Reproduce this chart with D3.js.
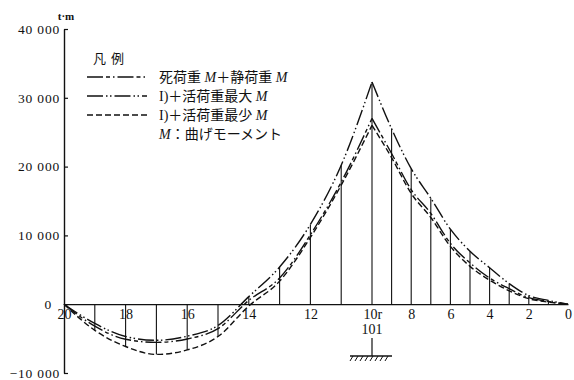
<!DOCTYPE html>
<html>
<head>
<meta charset="utf-8">
<script src="https://cdn.jsdelivr.net/npm/d3@7/dist/d3.min.js"></script>
<style>
  html, body { margin: 0; padding: 0; background: #fff; }
  svg { display: block; }
  .num { font-family: "Liberation Serif", "DejaVu Serif", serif; fill: #111; }
  .jp  { font-family: "Noto Sans CJK JP", sans-serif; fill: #111; }
</style>
</head>
<body>
<svg id="chart" width="574" height="380"></svg>
<script>
// Panel points along the girder, left end (20) to right end (0)
const nodeNo  = [20, 19, 18, 17, 16, 15, 14, 13, 12, 11, 10, 9, 8, 7, 6, 5, 4, 3, 2, 1, 0];
// Distance of each panel point from point 20 (m)
const station = [0, 11, 22, 33, 44, 55, 66, 77, 88, 99, 110, 117, 124, 131, 138, 145, 152, 159, 166, 173, 180];

// Bending moments at each panel point (t·m)
const deadM = [0, -3200, -5100, -5550, -5050, -3550, 550, 3800, 10100, 17750, 27000,
               21900, 16650, 13200, 8850, 6000, 3800, 2250, 950, 400, 0];
const maxM  = [0, -2800, -4700, -5250, -4650, -3100, 1100, 5400, 11600, 20200, 32300,
               25500, 19700, 15400, 10900, 7700, 5300, 3000, 1250, 550, 0];
const minM  = [0, -3800, -6150, -7300, -6650, -4700, -250, 3350, 9700, 17300, 26000,
               21300, 16100, 12600, 8400, 5500, 3500, 1950, 800, 300, 0];

// Axis labels
const xTickNodes  = [20, 18, 16, 14, 12, 10, 8, 6, 4, 2, 0];
const xTickLabels = ["20", "18", "16", "14", "12", "10r", "8", "6", "4", "2", "0"];
const yTicks      = [-10000, 0, 10000, 20000, 30000, 40000];
const yTickLabels = ["−10 000", "0", "10 000", "20 000", "30 000", "40 000"];
const pierLabel   = "101";
const pierNode    = 10;

const svg = d3.select("#chart");
const ink = "#111";

const x = d3.scaleLinear().domain([0, 180]).range([64, 568]);
const y = d3.scaleLinear().domain([-10000, 40000]).range([373, 29]);
const stationOf = n => station[nodeNo.indexOf(n)];

// ---- axes ----
const yAxis = d3.axisLeft(y)
  .tickValues(yTicks)
  .tickSizeInner(-4)
  .tickSizeOuter(0)
  .tickPadding(4)
  .tickFormat((d, i) => yTickLabels[i]);
const gy = svg.append("g").attr("transform", "translate(64,0)").call(yAxis);
gy.select(".domain").attr("stroke", ink).attr("stroke-width", 1.4);
gy.selectAll(".tick line").attr("stroke", ink).attr("stroke-width", 1.2);
gy.selectAll(".tick text")
  .attr("class", "num")
  .attr("font-size", 13.5)
  .attr("letter-spacing", 0.8)
  .attr("fill", ink);
// the zero label sits clear of the "20" label
gy.selectAll(".tick").filter(d => d === 0).select("text").attr("x", -12);

const xAxis = d3.axisBottom(x)
  .tickValues(xTickNodes.map(stationOf))
  .tickSize(0)
  .tickPadding(5)
  .tickFormat((d, i) => xTickLabels[i]);
const gx = svg.append("g").attr("transform", `translate(0,${y(0)})`).call(xAxis);
gx.select(".domain").attr("stroke", ink).attr("stroke-width", 1.3);
gx.selectAll(".tick text")
  .attr("class", "num")
  .attr("font-size", 14)
  .attr("fill", ink);
gx.selectAll(".tick").filter((d, i) => xTickLabels[i] === "10r").select("text")
  .attr("text-anchor", "start").attr("x", -9);

// unit
svg.append("text").attr("class", "num")
  .attr("x", 66).attr("y", 20)
  .attr("text-anchor", "middle")
  .attr("font-size", 11).attr("font-weight", "bold")
  .text("t·m");

// ---- ordinates at each panel point (to the envelope) ----
const ordinates = nodeNo.map((n, i) => ({
  s: station[i],
  v: deadM[i] < 0 ? minM[i] : maxM[i]
})).filter((d, i) => nodeNo[i] !== 20 && nodeNo[i] !== 0);

svg.append("g").selectAll("line").data(ordinates).join("line")
  .attr("x1", d => x(d.s)).attr("x2", d => x(d.s))
  .attr("y1", y(0)).attr("y2", d => y(d.v))
  .attr("stroke", ink).attr("stroke-width", 1.1);

// ---- moment curves, drawn span by span so the pier peak stays sharp ----
const series = [
  { values: deadM, dash: "16,3,4,3,1.5,3" },
  { values: maxM,  dash: "16,3,1.5,2.5,1.5,3" },
  { values: minM,  dash: "6,3" }
];
const pierIdx = nodeNo.indexOf(pierNode);
const spans = [[0, pierIdx], [pierIdx, nodeNo.length - 1]];
const line = d3.line()
  .x(d => x(d.s)).y(d => y(d.v))
  .curve(d3.curveMonotoneX);

series.forEach(sr => {
  spans.forEach(([a, b]) => {
    const pts = d3.range(a, b + 1).map(i => ({ s: station[i], v: sr.values[i] }));
    svg.append("path")
      .attr("d", line(pts))
      .attr("fill", "none")
      .attr("stroke", ink)
      .attr("stroke-width", 1.4)
      .attr("stroke-dasharray", sr.dash);
  });
});

// ---- pier support under point 10 ----
const px = x(stationOf(pierNode));
svg.append("text").attr("class", "num")
  .attr("x", px).attr("y", 334)
  .attr("text-anchor", "middle").attr("font-size", 14)
  .text(pierLabel);
svg.append("line")
  .attr("x1", px).attr("x2", px).attr("y1", 338).attr("y2", 356)
  .attr("stroke", ink).attr("stroke-width", 1.2);
svg.append("line")
  .attr("x1", px - 22).attr("x2", px + 20).attr("y1", 356).attr("y2", 356)
  .attr("stroke", ink).attr("stroke-width", 1.4);
svg.append("g").selectAll("line").data(d3.range(-19, 20, 5)).join("line")
  .attr("x1", d => px + d).attr("x2", d => px + d - 3)
  .attr("y1", 356).attr("y2", 361)
  .attr("stroke", ink).attr("stroke-width", 1);

// ---- legend ----
const legend = svg.append("g");
legend.append("text").attr("class", "jp")
  .attr("x", 93).attr("y", 63).attr("font-size", 13)
  .attr("letter-spacing", 5)
  .text("凡例");

const legendRows = [
  { dash: series[0].dash, parts: [["jp", "死荷重"], ["it", " M"], ["jp", "＋静荷重"], ["it", " M"]] },
  { dash: series[1].dash, parts: [["num", "I)"], ["jp", "＋活荷重最大"], ["it", " M"]] },
  { dash: series[2].dash, parts: [["num", "I)"], ["jp", "＋活荷重最少"], ["it", " M"]] },
  { dash: null,           parts: [["it", "M"], ["jp", "：曲げモーメント"]] }
];
legendRows.forEach((r, i) => {
  const cy = 77 + i * 19;
  if (r.dash) {
    legend.append("line")
      .attr("x1", 87).attr("x2", 147).attr("y1", cy).attr("y2", cy)
      .attr("stroke", ink).attr("stroke-width", 1.3)
      .attr("stroke-dasharray", r.dash);
  }
  const t = legend.append("text")
    .attr("x", 159).attr("y", cy + 5).attr("font-size", 14).attr("fill", ink);
  r.parts.forEach(([k, s]) => {
    const ts = t.append("tspan").text(s);
    if (k === "jp") ts.attr("font-family", "Noto Sans CJK JP, sans-serif");
    else if (k === "it") ts.attr("font-family", "Liberation Serif, serif").attr("font-style", "italic");
    else ts.attr("font-family", "Liberation Serif, serif");
  });
});
</script>
</body>
</html>
